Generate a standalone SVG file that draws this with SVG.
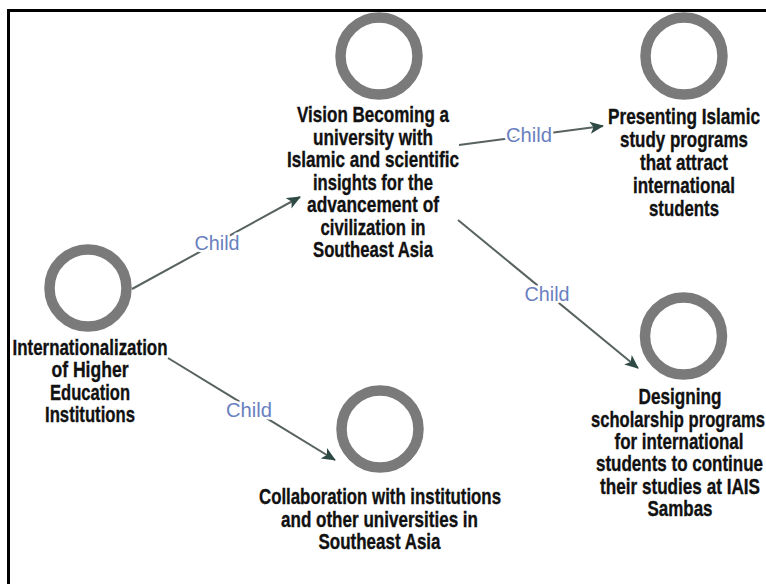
<svg xmlns="http://www.w3.org/2000/svg" width="766" height="584" viewBox="0 0 766 584">
<defs>
<style>
.ring{fill:none;stroke:#7a7a7a;stroke-width:10.5}
.t{font-family:'Liberation Sans Narrow','Arial Narrow','Liberation Sans',Arial,sans-serif;font-weight:bold;font-size:22px;fill:#111;stroke:#111;stroke-width:0.35;text-anchor:middle}
.edge{fill:none;stroke:#58625f;stroke-width:2}
.lbl{font-family:'Liberation Sans Narrow','Arial Narrow','Liberation Sans',Arial,sans-serif;font-size:20px;fill:#6a80c0;text-anchor:middle;stroke:#fff;stroke-width:5;paint-order:stroke;stroke-linejoin:round}
</style>
<marker id="arr" markerUnits="userSpaceOnUse" markerWidth="15" markerHeight="13" refX="13" refY="6" orient="auto">
<path d="M0,0 L14,6 L0,12 L3.5,6 z" fill="#2f4a44"/>
</marker>
</defs>
<rect width="766" height="584" fill="#fff"/>
<rect x="8.5" y="10.5" width="800" height="620" fill="none" stroke="#000" stroke-width="3"/>

<g id="connectors">
<path class="edge" d="M132,289 L300,197" marker-end="url(#arr)"/>
<path class="edge" d="M459,145 L603,126" marker-end="url(#arr)"/>
<path class="edge" d="M458,220 L638,368" marker-end="url(#arr)"/>
<path class="edge" d="M168,358 L335,460" marker-end="url(#arr)"/>
<text class="lbl" x="217" y="250" textLength="45" lengthAdjust="spacingAndGlyphs">Child</text>
<text class="lbl" x="529" y="142" textLength="46" lengthAdjust="spacingAndGlyphs">Child</text>
<text class="lbl" x="547" y="301" textLength="45" lengthAdjust="spacingAndGlyphs">Child</text>
<text class="lbl" x="249" y="417" textLength="46" lengthAdjust="spacingAndGlyphs">Child</text>
</g>

<g id="node-internationalization">
<circle class="ring" cx="88" cy="288" r="38.5"/>
<text class="t" x="90" y="355" textLength="155" lengthAdjust="spacingAndGlyphs">Internationalization</text>
<text class="t" x="90" y="377" textLength="77" lengthAdjust="spacingAndGlyphs">of Higher</text>
<text class="t" x="90" y="400" textLength="80" lengthAdjust="spacingAndGlyphs">Education</text>
<text class="t" x="90" y="422" textLength="90" lengthAdjust="spacingAndGlyphs">Institutions</text>
</g>

<g id="node-vision">
<circle class="ring" cx="379" cy="56" r="38.5"/>
<text class="t" x="373" y="122" textLength="152" lengthAdjust="spacingAndGlyphs">Vision Becoming a</text>
<text class="t" x="373" y="144.5" textLength="120" lengthAdjust="spacingAndGlyphs">university with</text>
<text class="t" x="373" y="167" textLength="172" lengthAdjust="spacingAndGlyphs">Islamic and scientific</text>
<text class="t" x="373" y="189.5" textLength="120" lengthAdjust="spacingAndGlyphs">insights for the</text>
<text class="t" x="373" y="212" textLength="132" lengthAdjust="spacingAndGlyphs">advancement of</text>
<text class="t" x="373" y="234.5" textLength="105" lengthAdjust="spacingAndGlyphs">civilization in</text>
<text class="t" x="373" y="257" textLength="120" lengthAdjust="spacingAndGlyphs">Southeast Asia</text>
</g>

<g id="node-presenting">
<circle class="ring" cx="684" cy="56" r="38.5"/>
<text class="t" x="684" y="124" textLength="152" lengthAdjust="spacingAndGlyphs">Presenting Islamic</text>
<text class="t" x="684" y="147" textLength="128" lengthAdjust="spacingAndGlyphs">study programs</text>
<text class="t" x="684" y="170" textLength="88" lengthAdjust="spacingAndGlyphs">that attract</text>
<text class="t" x="684" y="193" textLength="102" lengthAdjust="spacingAndGlyphs">international</text>
<text class="t" x="684" y="216" textLength="70" lengthAdjust="spacingAndGlyphs">students</text>
</g>

<g id="node-designing">
<circle class="ring" cx="683.5" cy="336" r="38.5"/>
<text class="t" x="680" y="404" textLength="83" lengthAdjust="spacingAndGlyphs">Designing</text>
<text class="t" x="678" y="427" textLength="174" lengthAdjust="spacingAndGlyphs">scholarship programs</text>
<text class="t" x="679" y="449" textLength="129" lengthAdjust="spacingAndGlyphs">for international</text>
<text class="t" x="679.5" y="471" textLength="167" lengthAdjust="spacingAndGlyphs">students to continue</text>
<text class="t" x="680" y="494" textLength="160" lengthAdjust="spacingAndGlyphs">their studies at IAIS</text>
<text class="t" x="680" y="516" textLength="65" lengthAdjust="spacingAndGlyphs">Sambas</text>
</g>

<g id="node-collaboration">
<circle class="ring" cx="380" cy="429" r="38.5"/>
<text class="t" x="380" y="504" textLength="242" lengthAdjust="spacingAndGlyphs">Collaboration with institutions</text>
<text class="t" x="379.5" y="527" textLength="197" lengthAdjust="spacingAndGlyphs">and other universities in</text>
<text class="t" x="379.5" y="549" textLength="122" lengthAdjust="spacingAndGlyphs">Southeast Asia</text>
</g>
</svg>
